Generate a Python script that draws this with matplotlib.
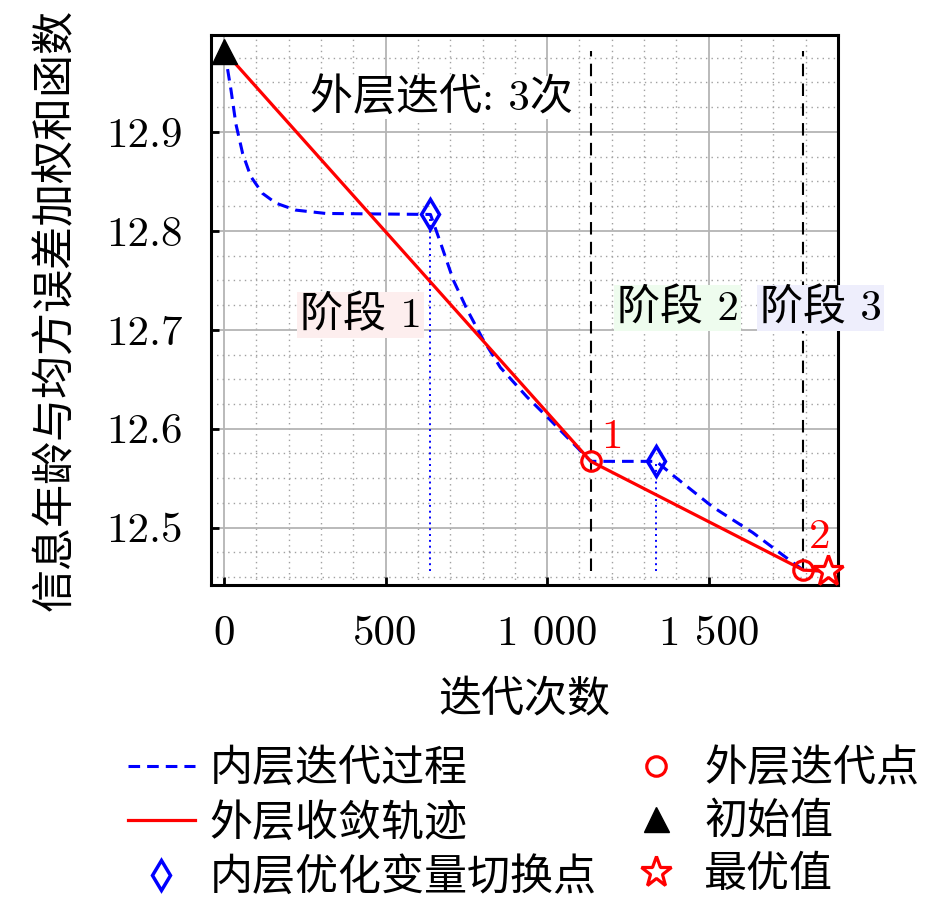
import matplotlib
matplotlib.use("Agg")
import matplotlib.pyplot as plt
from matplotlib.ticker import MultipleLocator, FuncFormatter

plt.rcParams['font.family'] = ['cmr10', 'Noto Sans CJK SC', 'DejaVu Sans']
plt.rcParams['axes.unicode_minus'] = False

# ---- data ----
inner_x = [0, 6, 22, 37, 58, 83, 119, 161, 222, 315, 639, 670, 710, 753, 802, 855, 938, 1009,
           1093, 1135, 1338, 1389, 1512, 1636, 1759, 1793, 1868]
inner_y = [12.982, 12.974, 12.942, 12.908, 12.878, 12.855, 12.838, 12.828, 12.821, 12.8176, 12.8166,
           12.788, 12.750, 12.720, 12.690, 12.662, 12.632, 12.609, 12.581, 12.567,
           12.567, 12.553, 12.521, 12.495, 12.465, 12.457, 12.456]
outer_x = [0, 1135, 1793, 1868]
outer_y = [12.982, 12.567, 12.457, 12.456]
outer_pts_x = [1135, 1793]
outer_pts_y = [12.567, 12.457]
switch_x = [639, 1338]
switch_y = [12.8166, 12.567]
init_x, init_y = 0, 12.982
best_x, best_y = 1868, 12.456
outer_labels = ['1', '2']
stage_labels = ['阶段 1', '阶段 2', '阶段 3']
stage_x = [423, 1404, 1846]
stage_y = [12.715, 12.722, 12.722]
stage_colors = ['#fdeeee', '#eefcee', '#eeeefc']

FS = 31

fig = plt.figure(figsize=(9.45, 9.0), dpi=100)
ax = fig.add_axes([0.2233, 0.35, 0.6635, 0.6111])

ax.set_xlim(-40, 1900)
ax.set_ylim(12.442, 12.998)

ax.xaxis.set_major_locator(MultipleLocator(500))
ax.xaxis.set_minor_locator(MultipleLocator(100))
ax.yaxis.set_major_locator(MultipleLocator(0.1))
ax.yaxis.set_minor_locator(MultipleLocator(0.025))

def xfmt(v, p):
    v = int(round(v))
    return f"{v:,}".replace(",", " ")
ax.xaxis.set_major_formatter(FuncFormatter(xfmt))
ax.yaxis.set_major_formatter(FuncFormatter(lambda v, p: f"{v:.1f}"))

ax.grid(True, which='major', color='#b4b4b4', lw=1.3, ls='-')
ax.grid(True, which='minor', color='#a0a0a0', lw=1.0, ls=(0, (1, 3)))
ax.set_axisbelow(True)

ax.tick_params(which='major', direction='in', length=6, width=2, labelsize=FS)
ax.tick_params(axis='x', which='major', pad=22)
ax.tick_params(axis='y', which='major', pad=20)
ax.tick_params(which='minor', length=0)
for s in ax.spines.values():
    s.set_linewidth(2.2)

# vertical dashed lines at outer iterations
for xv in outer_pts_x:
    ax.plot([xv, xv], [best_y, init_y], color='black', ls=(0, (6, 3.5)), lw=1.5, zorder=2)
# dotted lines at switching points
for xv, yv in zip(switch_x, switch_y):
    ax.plot([xv, xv], [best_y, yv], color='blue', ls=(0, (1, 2)), lw=1.4, zorder=2)

l_inner, = ax.plot(inner_x, inner_y, color='blue', ls=(0, (3.8, 2.3)), lw=2.2, zorder=3)
l_outer, = ax.plot(outer_x, outer_y, color='red', ls='-', lw=2.3, zorder=4)
m_sw, = ax.plot(switch_x, switch_y, ls='none', marker='d', ms=15, mfc='none', mec='blue', mew=2.5, zorder=5)
m_out, = ax.plot(outer_pts_x, outer_pts_y, ls='none', marker='o', ms=14, mfc='none', mec='red', mew=2.3, zorder=5)
m_init, = ax.plot([init_x], [init_y], ls='none', marker='^', ms=18, color='black', zorder=6, clip_on=False)
m_best, = ax.plot([best_x], [best_y], ls='none', marker='*', ms=23, mfc='white', mec='red', mew=2.3, zorder=6, clip_on=False)

for lab, xv, yv, dx, dy in zip(outer_labels, outer_pts_x, outer_pts_y, [65, 50], [0.024, 0.033]):
    ax.text(xv + dx, yv + dy, lab, color='red', fontsize=FS, ha='center', va='center')

for lab, xv, yv, c in zip(stage_labels, stage_x, stage_y, stage_colors):
    ax.text(xv, yv, lab, fontsize=FS, ha='center', va='center', clip_on=False,
            bbox=dict(facecolor=c, edgecolor='none', pad=2))

ax.text(673, 12.935, '外层迭代: 3次', fontsize=FS, ha='center', va='center',
        bbox=dict(facecolor='white', edgecolor='none', pad=1))

ax.set_xlabel('迭代次数', fontsize=FS, labelpad=20)
ax.set_ylabel('信息年龄与均方误差加权和函数', fontsize=FS, labelpad=22)

handles = [l_inner, l_outer, m_sw, m_out, m_init, m_best]
labels = ['内层迭代过程', '外层收敛轨迹', '内层优化变量切换点', '外层迭代点', '初始值', '最优值']
fig.legend(handles, labels, loc='upper left', bbox_to_anchor=(128 / 945, 1 - 748 / 900),
           ncol=2, frameon=False, fontsize=FS, borderpad=0, borderaxespad=0,
           handlelength=1.55, handletextpad=0.35, columnspacing=0.6, labelspacing=0.32)

fig.savefig('out.png', dpi=100)
